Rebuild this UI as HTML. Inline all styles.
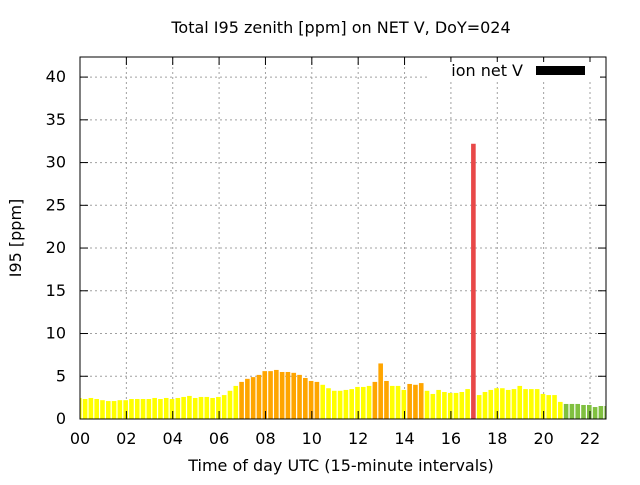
<!DOCTYPE html>
<html><head><meta charset="utf-8"><style>
body{margin:0;background:#fff;}
svg text{font-family:"DejaVu Sans","Liberation Sans",sans-serif;font-size:16px;fill:#000;}
</style></head><body>
<svg id="chart" width="640" height="480" xmlns="http://www.w3.org/2000/svg">
<rect width="640" height="480" fill="#fff"/>
<text x="341" y="33" text-anchor="middle" font-size="15">Total I95 zenith [ppm] on NET V, DoY=024</text>
<text transform="translate(21,238) rotate(-90)" text-anchor="middle" font-size="15">I95 [ppm]</text>
<text x="341" y="471" text-anchor="middle" font-size="15">Time of day UTC (15-minute intervals)</text>
<g id="grid"></g><g id="bars"></g><g id="axes"></g>
<rect x="80" y="57" width="526" height="362" fill="none" stroke="#000" stroke-width="1"/>
<g>
<rect x="428" y="62" width="172" height="18" fill="#fff"/>
<text x="523" y="76" text-anchor="end" font-size="15">ion net V</text>
<rect x="536" y="66" width="49" height="9" fill="#000"/>
</g>
</svg>
<script>
const values=[2.46,2.34,2.46,2.34,2.2,2.1,2.1,2.2,2.2,2.34,2.34,2.34,2.34,2.46,2.34,2.46,2.34,2.46,2.58,2.7,2.46,2.58,2.58,2.46,2.58,2.8,3.3,3.87,4.34,4.7,4.9,5.16,5.6,5.6,5.74,5.5,5.5,5.4,5.16,4.8,4.45,4.34,4.0,3.6,3.3,3.3,3.4,3.5,3.75,3.75,3.87,4.34,6.5,4.45,3.87,3.87,3.4,4.1,4.0,4.2,3.3,2.93,3.4,3.16,3.05,3.05,3.16,3.5,32.2,2.8,3.16,3.4,3.6,3.6,3.4,3.5,3.87,3.5,3.5,3.5,2.93,2.8,2.8,2.0,1.76,1.76,1.76,1.64,1.64,1.4,1.52,1.52];
const levels=[0,0,0,0,0,0,0,0,0,0,0,0,0,0,0,0,0,0,0,0,0,0,0,0,0,0,0,0,1,1,1,1,1,1,1,1,1,1,1,1,1,1,0,0,0,0,0,0,0,0,0,1,1,1,0,0,0,1,1,1,0,0,0,0,0,0,0,0,2,0,0,0,0,0,0,0,0,0,0,0,0,0,0,0,-1,-1,-1,-1,-1,-1,-1,-1];
const levelColors={"-1":"#80c040","0":"#ffff00","1":"#ffa500","2":"#e84848"};
const yTicks=[0,5,10,15,20,25,30,35,40];
const xTicks=["00","02","04","06","08","10","12","14","16","18","20","22"];
const NS="http://www.w3.org/2000/svg";
const X0=80,X1=606,Y0=419,Y1=57,YMAX=42.35,HMAX=22.69;
const xs=h=>X0+h*(X1-X0)/HMAX;
const ys=v=>Y0-v*(Y0-Y1)/YMAX;
function mk(t,a,p){const e=document.createElementNS(NS,t);for(const k in a)e.setAttribute(k,a[k]);p.appendChild(e);return e;}
const grid=document.getElementById('grid'),bars=document.getElementById('bars'),axes=document.getElementById('axes');
yTicks.forEach(v=>{const y=ys(v);
 if(v>0){const g=mk('line',{x1:X0,x2:X1,y1:y,y2:y,stroke:'#a0a0a0','stroke-dasharray':'2,3'},grid);
 
 }
 const t=mk('text',{x:66,y:y+5,'text-anchor':'end'},axes);t.textContent=v;
 
 
 mk('line',{x1:X0,x2:X0+8,y1:y,y2:y,stroke:'#000'},axes);
 mk('line',{x1:X1,x2:X1-8,y1:y,y2:y,stroke:'#000'},axes);
});
xTicks.forEach(s=>{const x=xs(parseInt(s,10));
 if(x>X0){const g=mk('line',{x1:x,x2:x,y1:Y0,y2:Y1,stroke:'#a0a0a0','stroke-dasharray':'2,3'},grid);
 
 }
 const t=mk('text',{x:x,y:444,'text-anchor':'middle'},axes);t.textContent=s;
 
 
 mk('line',{x1:x,x2:x,y1:Y0,y2:Y0-8,stroke:'#000'},axes);
 mk('line',{x1:x,x2:x,y1:Y1,y2:Y1+8,stroke:'#000'},axes);
});
values.forEach((v,i)=>{
 let cx=xs(i*0.25)-0.7, l=cx-2.3, r=cx+2.3;
 l=Math.max(l,X0);r=Math.min(r,X1);
 const b=mk('rect',{x:l,y:ys(v),width:Math.max(0,r-l),height:Y0-ys(v),fill:levelColors[levels[i]]},bars);
 
 
});
</script>
</body></html>
